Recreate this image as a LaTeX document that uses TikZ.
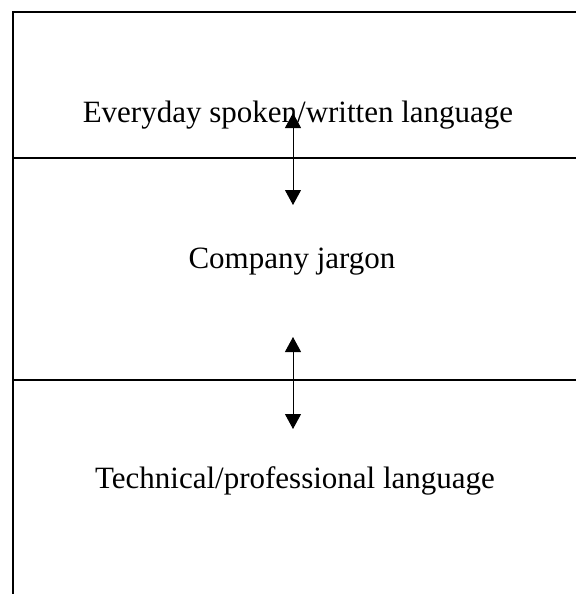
\documentclass[tikz,border=0pt]{standalone}
\usepackage{fontspec}
\setmainfont{Liberation Serif}
\usetikzlibrary{arrows.meta}
\begin{document}
\begin{tikzpicture}[x=1pt,y=-1pt,
  border/.style={line width=2pt},
  lbl/.style={font=\fontsize{31}{37}\selectfont, anchor=base, inner sep=0pt},
  link/.style={line width=1pt, {Triangle[width=16pt,length=15pt]}-{Triangle[width=16pt,length=15pt]}}]
\useasboundingbox (0,0) rectangle (576,594);
\draw[border] (12.5,594) -- (12.5,12.5) -- (576,12.5);
\draw[border] (12.5,158) -- (576,158);
\draw[border] (12.5,380) -- (576,380);
\node[lbl] (t1) at (298,122) {Everyday spoken/written language};
\node[lbl] (t2) at (292,268) {Company jargon};
\node[lbl] (t3) at (295,488) {Technical/professional language};
\coordinate (a1top) at (293,113);
\coordinate (a1bot) at (293,205);
\coordinate (a2top) at (293,337);
\coordinate (a2bot) at (293,429);
\draw[link] (a1bot) -- (a1top);
\draw[link] (a2top) -- (a2bot);
\end{tikzpicture}
\end{document}
